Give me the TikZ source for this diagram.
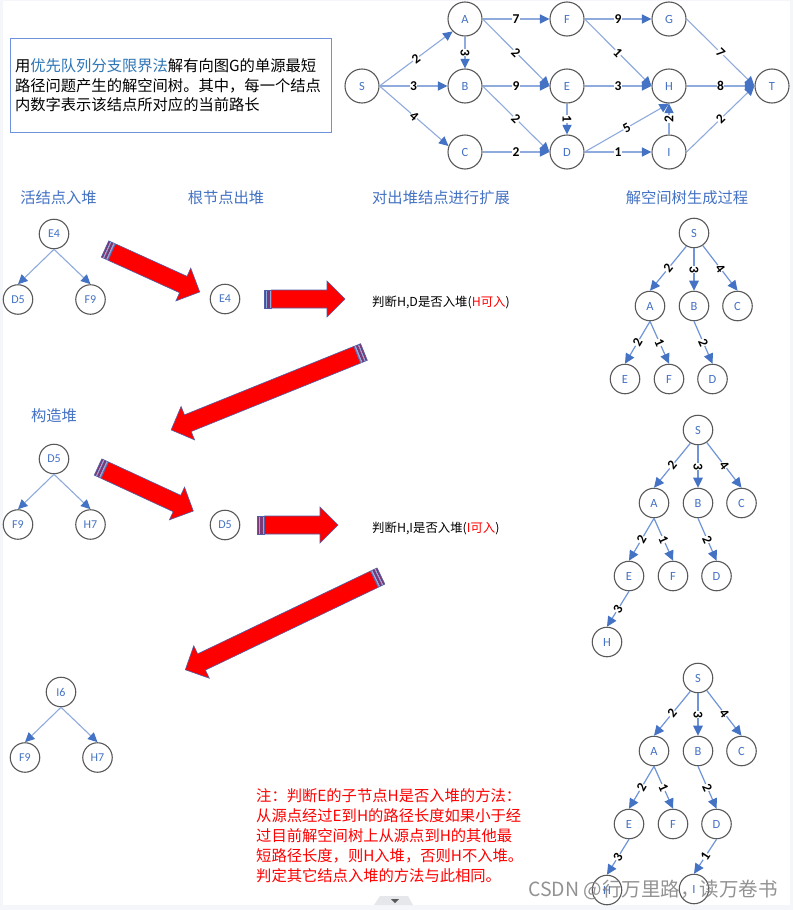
\documentclass[tikz,border=0pt]{standalone}
\usepackage{fontspec}
\usetikzlibrary{arrows.meta}
\setmainfont{Noto Sans CJK SC}
\newfontfamily\latinfont{Carlito}
\definecolor{pagebg}{HTML}{F5F6F9}
\definecolor{nodeblue}{HTML}{4472C4}
\definecolor{edgeblue}{HTML}{8FAADC}
\definecolor{treeblue}{HTML}{6F94D8}
\definecolor{ringgrey}{HTML}{595959}
\definecolor{boxblue}{HTML}{6E93DC}
\definecolor{linkblue}{HTML}{2E75B6}
\definecolor{stripepurple}{HTML}{7A3A78}
\definecolor{outlineblue}{HTML}{4F5FA8}
\definecolor{tabgrey}{HTML}{E6E7EB}
\tikzset{
  x=1pt,y=-1pt,
  vertex/.style={circle,draw=ringgrey,fill=white,line width=1.1pt,minimum size=34pt,inner sep=0pt,text=nodeblue,font=\latinfont\fontsize{12.5}{14}\selectfont},
  treevertex/.style={vertex,minimum size=29.5pt},
  heapvertex/.style={vertex,minimum size=29.5pt,font=\latinfont\fontsize{12}{14}\selectfont},
  edgeline/.style={draw=edgeblue,line width=1.1pt,-{Triangle[length=9.5pt,width=9pt,color=nodeblue]}},
  treeline/.style={draw=treeblue,line width=1.2pt,-{Triangle[length=10pt,width=9.5pt,color=nodeblue]}},
  weight/.style={midway,sloped,fill=white,inner sep=0.3pt,text=black,font=\latinfont\bfseries\fontsize{13.5}{14}\selectfont},
  heading/.style={anchor=center,text=nodeblue,font=\fontsize{15.3}{19}\selectfont,inner sep=0pt},
  smalltext/.style={anchor=west,text=black,font=\fontsize{12.4}{14}\selectfont,inner sep=0pt},
  notebox/.style={draw=boxblue,line width=0.9pt,fill=white,minimum width=319pt,minimum height=94pt,inner sep=5pt,text width=311pt,align=left,font=\fontsize{15.3}{19.3}\selectfont},
  rednote/.style={anchor=north west,text=red,inner sep=0pt,align=left,font=\fontsize{15.3}{20}\selectfont},
  mark text/.style={anchor=center,text=gray,opacity=0.85,inner sep=0pt}
}
\newcommand{\redarrow}[4]{%
  \begin{scope}[shift={(#1,#2)},rotate=#3]
    \fill[stripepurple] (0pt,-9pt) rectangle (2pt,9pt);
    \fill[edgeblue] (2pt,-9pt) rectangle (3pt,9pt);
    \fill[stripepurple] (3pt,-9pt) rectangle (5.5pt,9pt);
    \fill[edgeblue] (5.5pt,-9pt) rectangle (7pt,9pt);
    \draw[outlineblue,line width=0.5pt] (0pt,-9pt) rectangle (7pt,9pt);
    \draw[outlineblue,line width=0.6pt,fill=red,line join=miter]
      (7.5pt,-9pt) -- ({#4pt-18pt},-9pt) -- ({#4pt-18pt},-18pt) -- (#4pt,0pt)
      -- ({#4pt-18pt},18pt) -- ({#4pt-18pt},9pt) -- (7.5pt,9pt) -- cycle;
  \end{scope}}
% heap: prefix, x, y, top, left, right
\newcommand{\heap}[6]{%
  \begin{scope}[shift={(#2,#3)},name prefix=#1]
    \node[heapvertex] (top) at (0,0) {#4};
    \node[heapvertex] (left) at (-36,65.5) {#5};
    \node[heapvertex] (right) at (36.5,65.5) {#6};
    \draw[edgeline] (top.south) -- (left.north);
    \draw[edgeline] (top.south) -- (right.north);
  \end{scope}}
% search tree: prefix, x, y, extra
\newcommand{\searchtree}[4]{%
  \begin{scope}[shift={(#2,#3)},name prefix=#1]
    \node[treevertex] (S) at (0,0) {S};
    \node[treevertex] (A) at (-44,73) {A};
    \node[treevertex] (B) at (0,73) {B};
    \node[treevertex] (C) at (43.5,73) {C};
    \node[treevertex] (E) at (-69,146) {E};
    \node[treevertex] (F) at (-25,146) {F};
    \node[treevertex] (D) at (18.5,146) {D};
    \draw[treeline] (S.240) -- node[weight]{2} (A.north);
    \draw[treeline] (S.south) -- node[weight]{3} (B.north);
    \draw[treeline] (S.-55) -- node[weight]{4} (C.north);
    \draw[treeline] (A.south) -- node[weight]{2} (E.north);
    \draw[treeline] (A.south) -- node[weight]{1} (F.north);
    \draw[treeline] (B.south) -- node[weight]{2} (D.north);
    #4
  \end{scope}}
\begin{document}
\begin{tikzpicture}
\useasboundingbox (0,0) rectangle (793,910);
\fill[pagebg] (0,0) rectangle (793,910);
\fill[white] (3,1) rectangle (790,905);

% intro box
\node[notebox] (intro) at (170.5,85.5) {用\textcolor{linkblue}{优先队列分支限界法}解有向图G的单源最短\\路径问题产生的解空间树。其中，每一个结点\\内数字表示该结点所对应的当前路长};

% main graph
\node[vertex] (S) at (362,86) {S};
\node[vertex] (A) at (465,19) {A};
\node[vertex] (B) at (465,86) {B};
\node[vertex] (C) at (465,152) {C};
\node[vertex] (F) at (567,19) {F};
\node[vertex] (E) at (567,86) {E};
\node[vertex] (D) at (567,152) {D};
\node[vertex] (G) at (669,19) {G};
\node[vertex] (H) at (669,86) {H};
\node[vertex] (I) at (669,152) {I};
\node[vertex] (T) at (772,86) {T};
\draw[edgeline] (S.east) -- node[weight]{2} (A.225);
\draw[edgeline] (S.east) -- node[weight]{3} (B.west);
\draw[edgeline] (S.east) -- node[weight]{4} (C.160);
\draw[edgeline] (A.south) -- node[weight]{3} (B.north);
\draw[edgeline] (A.east) -- node[weight]{7} (F.west);
\draw[edgeline] (A.east) -- node[weight]{2} (E.west);
\draw[edgeline] (B.east) -- node[weight]{9} (E.west);
\draw[edgeline] (B.east) -- node[weight]{2} (D.west);
\draw[edgeline] (C.east) -- node[weight]{2} (D.west);
\draw[edgeline] (F.east) -- node[weight]{9} (G.west);
\draw[edgeline] (F.east) -- node[weight]{1} (H.west);
\draw[edgeline] (E.east) -- node[weight]{3} (H.west);
\draw[edgeline] (E.south) -- node[weight]{1} (D.north);
\draw[edgeline] (D.east) -- node[weight]{5} (H.south);
\draw[edgeline] (D.east) -- node[weight]{1} (I.west);
\draw[edgeline] (I.north) -- node[weight]{2} (H.south);
\draw[edgeline] (G.east) -- node[weight]{7} (T.west);
\draw[edgeline] (H.east) -- node[weight]{8} (T.west);
\draw[edgeline] (I.east) -- node[weight]{2} (T.west);

% headings
\node[heading] (h1) at (58.5,197.5) {活结点入堆};
\node[heading] (h2) at (226,197.5) {根节点出堆};
\node[heading] (h3) at (441,197.5) {对出堆结点进行扩展};
\node[heading] (h4) at (687,197.5) {解空间树生成过程};
\node[heading] (h5) at (54,415.5) {构造堆};

% heaps
\heap{ha}{54}{234}{E4}{D5}{F9}
\heap{hb}{54}{459}{D5}{F9}{H7}
\heap{hc}{61}{692}{I6}{F9}{H7}
\node[heapvertex] (outa) at (225,299) {E4};
\node[heapvertex] (outb) at (225,525) {D5};

% block arrows
\redarrow{105}{249}{-24.4}{104}
\redarrow{264}{299}{0}{81}
\redarrow{364}{352}{-158}{208}
\redarrow{98}{467}{-24.8}{105}
\redarrow{257}{525}{0}{81}
\redarrow{381}{576}{-154.4}{217}

% decisions
\node[smalltext] (da) at (372,302) {判断H,D是否入堆(\textcolor{red}{H可入})};
\node[smalltext] (db) at (372,528) {判断H,I是否入堆(\textcolor{red}{I可入})};

% search trees
\searchtree{ta}{694}{233}{}
\searchtree{tb}{698}{430}{%
  \node[treevertex] (H) at (-91,212) {H};
  \draw[treeline] (E.south) -- node[weight]{3} (H.north);}
\searchtree{tc}{698}{678}{%
  \node[treevertex] (H) at (-91,212) {H};
  \node[treevertex] (I) at (-4,211) {I};
  \draw[treeline] (E.south) -- node[weight]{3} (H.north);
  \draw[treeline] (D.south) -- node[weight]{1} (I.north);}

% note
\node[rednote] (note) at (256,788) {注：判断E的子节点H是否入堆的方法：\\从源点经过E到H的路径长度如果小于经\\过目前解空间树上从源点到H的其他最\\短路径长度，则H入堆，否则H不入堆。\\判定其它结点入堆的方法与此相同。};

% page tab and watermark
\fill[tabgrey] (374,905) -- (380,896) -- (408,896) -- (413,905) -- cycle;
\fill[ringgrey] (391,899) -- (399,899) -- (395,903) -- cycle;
\node[mark text,font=\fontsize{19.5}{22}\selectfont] (mark) at (653,890) {CSDN @行万里路，读万卷书};
\end{tikzpicture}
\end{document}
